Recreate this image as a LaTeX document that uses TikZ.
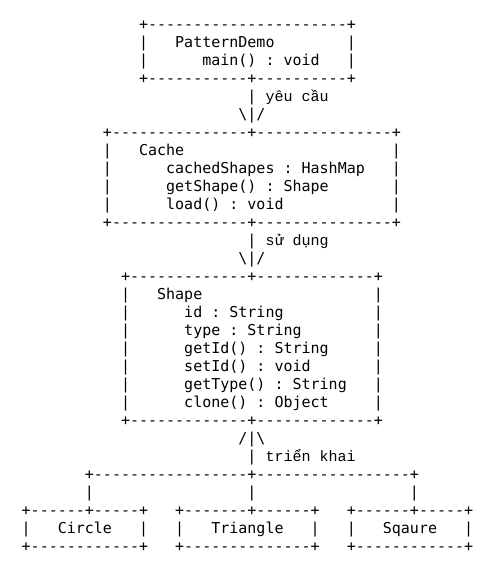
\documentclass[tikz,border=0pt]{standalone}
\usepackage{fontspec}
\setmonofont{DejaVu Sans Mono}
\newfontfamily\vnmono{Liberation Mono}
\usepackage{tikz}
\newcommand{\charw}{9.03}
\newcommand{\lineh}{18}
\newcommand{\gap}[1]{\kern#1\fontcharwd\font`0\relax}
\tikzset{ascii/.style = {anchor=base west, inner sep=0pt, text=black,
                         font=\ttfamily\fontsize{15}{18}\selectfont}}

\begin{document}
\begin{tikzpicture}[x=1pt, y=-1pt]
    \useasboundingbox (0,0) rectangle (500,573);

    % PatternDemo
    \node [ascii] (demotop) at ({21.5+13*\charw}, {29.5+0*\lineh}) {+----------------------+};
    \node [ascii] (demoname) at ({21.5+13*\charw}, {29.5+1*\lineh}) {|\gap{3}PatternDemo\gap{8}|};
    \node [ascii] (demomain) at ({21.5+13*\charw}, {29.5+2*\lineh}) {|\gap{6}main() : void\gap{3}|};
    \node [ascii] (demobot) at ({21.5+13*\charw}, {29.5+3*\lineh}) {+-----------+----------+};

    \node [ascii] (request) at ({21.5+25*\charw}, {29.5+4*\lineh}) {|\gap{1}{\vnmono yêu cầu}};
    \node [ascii] (requesttip) at ({21.5+24*\charw}, {29.5+5*\lineh}) {\textbackslash|/};

    % Cache
    \node [ascii] (cachetop) at ({21.5+9*\charw}, {29.5+6*\lineh}) {+---------------+---------------+};
    \node [ascii] (cachename) at ({21.5+9*\charw}, {29.5+7*\lineh}) {|\gap{3}Cache\gap{23}|};
    \node [ascii] (cachemap) at ({21.5+9*\charw}, {29.5+8*\lineh}) {|\gap{6}cachedShapes : HashMap\gap{3}|};
    \node [ascii] (cacheget) at ({21.5+9*\charw}, {29.5+9*\lineh}) {|\gap{6}getShape() : Shape\gap{7}|};
    \node [ascii] (cacheload) at ({21.5+9*\charw}, {29.5+10*\lineh}) {|\gap{6}load() : void\gap{12}|};
    \node [ascii] (cachebot) at ({21.5+9*\charw}, {29.5+11*\lineh}) {+---------------+---------------+};

    \node [ascii] (use) at ({21.5+25*\charw}, {29.5+12*\lineh}) {|\gap{1}{\vnmono sử dụng}};
    \node [ascii] (usetip) at ({21.5+24*\charw}, {29.5+13*\lineh}) {\textbackslash|/};

    % Shape
    \node [ascii] (shapetop) at ({21.5+11*\charw}, {29.5+14*\lineh}) {+-------------+-------------+};
    \node [ascii] (shapename) at ({21.5+11*\charw}, {29.5+15*\lineh}) {|\gap{3}Shape\gap{19}|};
    \foreach \r/\txt/\pad in {16/id : String/10, 17/type : String/8, 18/getId() : String/5,
                              19/setId() : void/7, 20/getType() : String/3, 21/clone() : Object/5} {
      \node [ascii] (shape\r) at ({21.5+11*\charw}, {29.5+\r*\lineh}) {|\gap{6}\txt\gap{\pad}|};
    }
    \node [ascii] (shapebot) at ({21.5+11*\charw}, {29.5+22*\lineh}) {+-------------+-------------+};

    \node [ascii] (impltip) at ({21.5+24*\charw}, {29.5+23*\lineh}) {/|\textbackslash};
    \node [ascii] (impl) at ({21.5+25*\charw}, {29.5+24*\lineh}) {|\gap{1}{\vnmono triển khai}};

    % branches
    \node [ascii] (branch) at ({21.5+7*\charw}, {29.5+25*\lineh}) {+-----------------+-----------------+};
    \foreach \c in {7, 25, 43}
      \node [ascii] (drop\c) at ({21.5+\c*\charw}, {29.5+26*\lineh}) {|};

    % Circle, Triangle, Sqaure
    \node [ascii] (circletop) at ({21.5+0*\charw}, {29.5+27*\lineh}) {+------+-----+};
    \node [ascii] (circle) at ({21.5+0*\charw}, {29.5+28*\lineh}) {|\gap{3}Circle\gap{3}|};
    \node [ascii] (circlebot) at ({21.5+0*\charw}, {29.5+29*\lineh}) {+------------+};

    \node [ascii] (triangletop) at ({21.5+17*\charw}, {29.5+27*\lineh}) {+-------+------+};
    \node [ascii] (triangle) at ({21.5+17*\charw}, {29.5+28*\lineh}) {|\gap{3}Triangle\gap{3}|};
    \node [ascii] (trianglebot) at ({21.5+17*\charw}, {29.5+29*\lineh}) {+--------------+};

    \node [ascii] (squaretop) at ({21.5+36*\charw}, {29.5+27*\lineh}) {+------+-----+};
    \node [ascii] (square) at ({21.5+36*\charw}, {29.5+28*\lineh}) {|\gap{3}Sqaure\gap{3}|};
    \node [ascii] (squarebot) at ({21.5+36*\charw}, {29.5+29*\lineh}) {+------------+};

\end{tikzpicture}
\end{document}
